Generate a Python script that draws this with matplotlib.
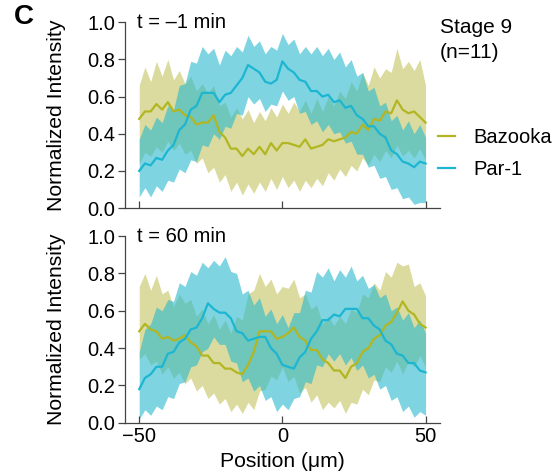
import numpy as np
import matplotlib
matplotlib.use("Agg")
import matplotlib.pyplot as plt

plt.rcParams['font.family'] = ['Liberation Sans', 'DejaVu Sans']

position = np.arange(-50, 51, 2)

# t = -1 min
baz_top = [0.48, 0.52, 0.52, 0.56, 0.53, 0.57, 0.52, 0.53, 0.50, 0.49,
           0.45, 0.46, 0.46, 0.50, 0.41, 0.38, 0.32, 0.32, 0.28, 0.32,
           0.29, 0.33, 0.29, 0.35, 0.31, 0.35, 0.35, 0.34, 0.33, 0.37,
           0.32, 0.33, 0.34, 0.37, 0.36, 0.37, 0.38, 0.41, 0.40, 0.45,
           0.42, 0.48, 0.47, 0.52, 0.51, 0.58, 0.53, 0.51, 0.52, 0.49,
           0.46]
baz_top_hi = [0.66, 0.76, 0.68, 0.79, 0.71, 0.80, 0.69, 0.74, 0.67, 0.71,
              0.63, 0.67, 0.62, 0.66, 0.55, 0.57, 0.49, 0.54, 0.48, 0.53,
              0.46, 0.52, 0.47, 0.54, 0.49, 0.56, 0.51, 0.57, 0.52, 0.58,
              0.51, 0.59, 0.52, 0.60, 0.55, 0.63, 0.59, 0.68, 0.63, 0.73,
              0.66, 0.76, 0.70, 0.75, 0.73, 0.86, 0.75, 0.79, 0.74, 0.80,
              0.66]
baz_top_lo = [0.24, 0.30, 0.28, 0.33, 0.30, 0.36, 0.31, 0.35, 0.29, 0.31,
              0.24, 0.27, 0.19, 0.22, 0.14, 0.18, 0.09, 0.14, 0.07, 0.13,
              0.08, 0.14, 0.09, 0.16, 0.10, 0.17, 0.11, 0.15, 0.09, 0.15,
              0.11, 0.16, 0.12, 0.19, 0.15, 0.21, 0.17, 0.23, 0.20, 0.27,
              0.23, 0.29, 0.25, 0.31, 0.27, 0.34, 0.28, 0.31, 0.27, 0.32,
              0.26]
par_top = [0.20, 0.24, 0.23, 0.27, 0.26, 0.31, 0.34, 0.42, 0.45, 0.53,
           0.55, 0.62, 0.62, 0.62, 0.57, 0.61, 0.62, 0.66, 0.70, 0.77,
           0.75, 0.73, 0.68, 0.67, 0.69, 0.79, 0.75, 0.73, 0.69, 0.68,
           0.63, 0.63, 0.60, 0.61, 0.57, 0.58, 0.54, 0.55, 0.50, 0.48,
           0.44, 0.44, 0.40, 0.38, 0.31, 0.29, 0.25, 0.24, 0.22, 0.25,
           0.24]
par_top_hi = [0.37, 0.45, 0.42, 0.49, 0.46, 0.55, 0.53, 0.66, 0.67, 0.79,
              0.78, 0.87, 0.83, 0.86, 0.77, 0.85, 0.82, 0.87, 0.84, 0.93,
              0.87, 0.90, 0.83, 0.87, 0.85, 0.94, 0.88, 0.91, 0.83, 0.87,
              0.83, 0.87, 0.82, 0.86, 0.80, 0.84, 0.76, 0.80, 0.71, 0.73,
              0.63, 0.65, 0.55, 0.57, 0.47, 0.50, 0.42, 0.47, 0.40, 0.45,
              0.38]
par_top_lo = [0.06, 0.11, 0.06, 0.12, 0.09, 0.15, 0.14, 0.21, 0.19, 0.26,
              0.25, 0.34, 0.33, 0.40, 0.37, 0.44, 0.43, 0.51, 0.50, 0.60,
              0.56, 0.59, 0.52, 0.56, 0.55, 0.63, 0.58, 0.60, 0.51, 0.52,
              0.45, 0.47, 0.41, 0.45, 0.40, 0.41, 0.35, 0.36, 0.29, 0.29,
              0.22, 0.23, 0.16, 0.17, 0.10, 0.11, 0.05, 0.06, 0.02, 0.03,
              0.03]

# t = 60 min
baz_bot = [0.49, 0.53, 0.50, 0.49, 0.45, 0.46, 0.44, 0.45, 0.47, 0.43,
           0.41, 0.36, 0.36, 0.32, 0.32, 0.29, 0.29, 0.27, 0.26, 0.31,
           0.38, 0.49, 0.49, 0.49, 0.45, 0.46, 0.48, 0.51, 0.46, 0.44,
           0.39, 0.39, 0.34, 0.32, 0.28, 0.28, 0.24, 0.30, 0.32, 0.38,
           0.40, 0.45, 0.47, 0.52, 0.54, 0.59, 0.65, 0.60, 0.58, 0.53,
           0.51]
baz_bot_hi = [0.73, 0.80, 0.71, 0.79, 0.69, 0.71, 0.62, 0.69, 0.64, 0.66,
              0.57, 0.61, 0.53, 0.58, 0.50, 0.55, 0.48, 0.57, 0.55, 0.69,
              0.71, 0.80, 0.73, 0.77, 0.69, 0.73, 0.72, 0.77, 0.67, 0.69,
              0.61, 0.63, 0.53, 0.57, 0.52, 0.57, 0.53, 0.61, 0.59, 0.69,
              0.67, 0.75, 0.71, 0.81, 0.78, 0.86, 0.84, 0.85, 0.73, 0.75,
              0.68]
baz_bot_lo = [0.34, 0.37, 0.31, 0.33, 0.26, 0.30, 0.24, 0.27, 0.21, 0.24,
              0.17, 0.20, 0.13, 0.16, 0.10, 0.13, 0.06, 0.10, 0.05, 0.11,
              0.07, 0.17, 0.18, 0.25, 0.23, 0.30, 0.22, 0.25, 0.16, 0.19,
              0.11, 0.15, 0.07, 0.11, 0.08, 0.12, 0.05, 0.11, 0.10, 0.18,
              0.15, 0.23, 0.22, 0.30, 0.27, 0.33, 0.26, 0.33, 0.30, 0.36,
              0.30]
par_bot = [0.18, 0.24, 0.26, 0.30, 0.30, 0.37, 0.38, 0.43, 0.45, 0.50,
           0.51, 0.56, 0.64, 0.61, 0.59, 0.59, 0.56, 0.49, 0.48, 0.44,
           0.45, 0.46, 0.46, 0.40, 0.37, 0.31, 0.30, 0.29, 0.35, 0.38,
           0.45, 0.49, 0.55, 0.55, 0.58, 0.57, 0.61, 0.61, 0.61, 0.56,
           0.56, 0.52, 0.50, 0.44, 0.42, 0.37, 0.36, 0.32, 0.32, 0.28,
           0.27]
par_bot_hi = [0.38, 0.50, 0.53, 0.62, 0.60, 0.66, 0.65, 0.75, 0.73, 0.81,
              0.79, 0.86, 0.83, 0.87, 0.84, 0.89, 0.81, 0.80, 0.69, 0.71,
              0.63, 0.67, 0.57, 0.61, 0.53, 0.58, 0.51, 0.59, 0.59, 0.71,
              0.70, 0.81, 0.78, 0.83, 0.76, 0.82, 0.78, 0.84, 0.76, 0.79,
              0.72, 0.74, 0.67, 0.69, 0.60, 0.62, 0.55, 0.59, 0.51, 0.55,
              0.48]
par_bot_lo = [0.02, 0.07, 0.04, 0.09, 0.07, 0.14, 0.13, 0.21, 0.22, 0.30,
              0.31, 0.38, 0.40, 0.46, 0.42, 0.42, 0.33, 0.32, 0.22, 0.24,
              0.17, 0.20, 0.12, 0.14, 0.06, 0.10, 0.07, 0.13, 0.14, 0.22,
              0.21, 0.31, 0.30, 0.37, 0.33, 0.37, 0.31, 0.35, 0.28, 0.31,
              0.24, 0.26, 0.18, 0.20, 0.12, 0.14, 0.06, 0.09, 0.03, 0.06,
              0.04]

panels = [("t = \u20131 min", baz_top, baz_top_lo, baz_top_hi,
           par_top, par_top_lo, par_top_hi),
          ("t = 60 min", baz_bot, baz_bot_lo, baz_bot_hi,
           par_bot, par_bot_lo, par_bot_hi)]

baz_line = '#B2B622'
baz_fill = '#BEBE50'
par_line = '#1CB6D2'
par_fill = '#28B9CD'
axis_col = '#444444'
fs = 14.5

fig = plt.figure(figsize=(5.6, 4.74), dpi=100)
ax_top = fig.add_axes([0.223, 0.561, 0.5625, 0.392])
ax_bot = fig.add_axes([0.223, 0.108, 0.5625, 0.394])

for ax, (label, baz, baz_lo, baz_hi, par, par_lo, par_hi) in zip([ax_top, ax_bot], panels):
    ax.fill_between(position, baz_lo, baz_hi, color=baz_fill, alpha=0.55, lw=0)
    ax.fill_between(position, par_lo, par_hi, color=par_fill, alpha=0.6, lw=0)
    ax.plot(position, baz, color=baz_line, lw=1.6, label='Bazooka')
    ax.plot(position, par, color=par_line, lw=1.6, label='Par-1')

    ax.set_xlim(-55, 55)
    ax.set_ylim(0, 1.0)
    ax.set_yticks([0, 0.2, 0.4, 0.6, 0.8, 1.0])
    ax.set_yticklabels(['0.0', '0.2', '0.4', '0.6', '0.8', '1.0'])
    ax.set_xticks([-50, 0, 50])
    for s in ['top', 'right']:
        ax.spines[s].set_visible(False)
    for s in ['left', 'bottom']:
        ax.spines[s].set_color(axis_col)
        ax.spines[s].set_linewidth(0.9)
    ax.tick_params(axis='y', direction='out', length=5, width=0.9,
                   color=axis_col, labelsize=fs, pad=2)
    ax.tick_params(axis='x', direction='in', length=5, width=0.9,
                   color=axis_col, labelsize=fs, pad=3)
    ax.set_ylabel('Normalized Intensity', fontsize=15.2, labelpad=15)
    ax.text(0.04, 1.0, label, transform=ax.transAxes, fontsize=fs,
            va='center', ha='left')

ax_top.set_xticklabels([])
ax_bot.set_xlabel('Position (\u03bcm)', fontsize=15.2, labelpad=4)

fig.text(0.025, 0.965, 'C', fontsize=20, fontweight='bold', va='center')
fig.text(0.786, 0.962, 'Stage 9\n(n=11)', fontsize=15, va='top',
         ha='left', linespacing=1.4)

handles, labels = ax_top.get_legend_handles_labels()
fig.legend(handles, labels, loc='center left',
           bbox_to_anchor=(0.75, 0.676), frameon=False, fontsize=fs,
           handlelength=0.85, handletextpad=0.9, labelspacing=0.62)

fig.savefig('out.png', dpi=100)
